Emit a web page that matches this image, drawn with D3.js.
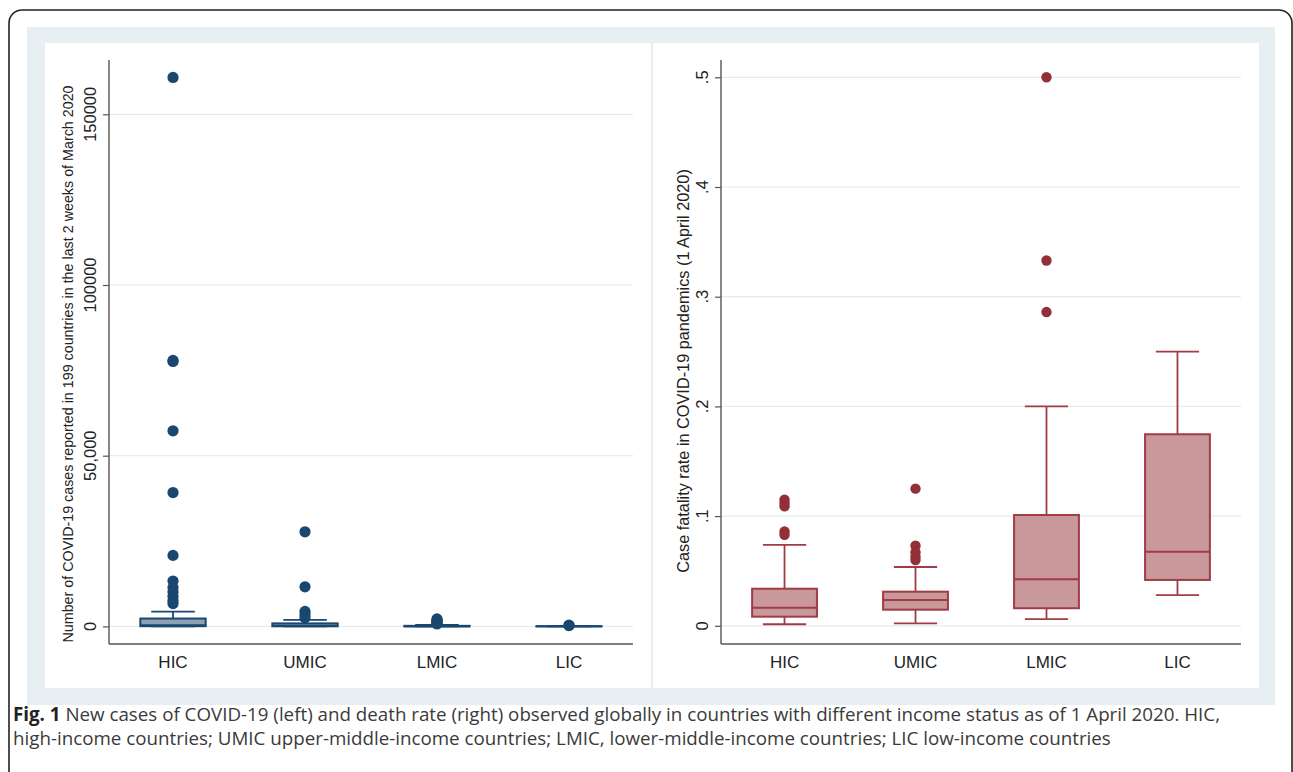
<!DOCTYPE html>
<html>
<head>
<meta charset="utf-8">
<script src="https://cdn.jsdelivr.net/npm/d3@7"></script>
<style>
  body { margin: 0; background: #fff; }
  svg { display: block; font-family: "Liberation Sans", Arial, sans-serif; }
</style>
</head>
<body>
<svg id="fig" width="1293" height="772"></svg>
<script>
const CATEGORIES = ["HIC", "UMIC", "LMIC", "LIC"];

// left panel: new cases in last 2 weeks of March 2020
const CASES_LO = [0, 0, 0, 0];
const CASES_Q1 = [60, 30, 10, 2];
const CASES_MED = [350, 160, 40, 8];
const CASES_Q3 = [2300, 880, 160, 30];
const CASES_HI = [4300, 1900, 420, 80];
const CASES_OUT = [
  [160800, 77900, 77600, 57300, 39200, 20800, 13300, 11400, 10100, 8800, 7600, 6700],
  [27700, 11600, 4400, 3400, 2500],
  [2200, 1800, 1500, 1200, 900, 700],
  [350, 250],
];
const CASES_TICKS = [0, 50000, 100000, 150000];
const CASES_TICK_LABELS = ["0", "50,000", "100000", "150000"];

// right panel: case fatality rate (1 April 2020)
const CFR_LO = [0.0014, 0.0023, 0.006, 0.028];
const CFR_Q1 = [0.0083, 0.0147, 0.016, 0.0418];
const CFR_MED = [0.0165, 0.0235, 0.0424, 0.0676];
const CFR_Q3 = [0.0338, 0.0311, 0.101, 0.1746];
const CFR_HI = [0.0737, 0.0536, 0.2, 0.25];
const CFR_OUT = [
  [0.115, 0.112, 0.109, 0.086, 0.083],
  [0.125, 0.073, 0.067, 0.063, 0.060],
  [0.5, 0.333, 0.286],
  [],
];
const CFR_TICKS = [0, 0.1, 0.2, 0.3, 0.4, 0.5];
const CFR_TICK_LABELS = ["0", ".1", ".2", ".3", ".4", ".5"];

const svg = d3.select("#fig");

// frame + graph region
svg.append("rect").attr("x", 9).attr("y", 10).attr("width", 1283).attr("height", 820)
  .attr("rx", 13).attr("fill", "#fff").attr("stroke", "#222").attr("stroke-width", 1.6);
svg.append("rect").attr("x", 27).attr("y", 27).attr("width", 1248).attr("height", 678)
  .attr("fill", "#e8eff2");
svg.append("rect").attr("x", 45).attr("y", 43).attr("width", 1214).attr("height", 645)
  .attr("fill", "#fff");
svg.append("line").attr("x1", 652).attr("x2", 652).attr("y1", 43).attr("y2", 688)
  .attr("stroke", "#dfe8ec").attr("stroke-width", 1.5);

function drawPanel(opt) {
  const g = svg.append("g");
  const x = d3.scalePoint().domain(CATEGORIES).range([opt.x0, opt.x1]).padding(0.485);
  const y = opt.y;
  const step = x.step();
  const boxW = step * 0.495;
  const capW = step * 0.33;

  // gridlines
  g.selectAll(".grid").data(opt.ticks).enter().append("line")
    .attr("x1", opt.x0).attr("x2", opt.x1)
    .attr("y1", d => y(d)).attr("y2", d => y(d))
    .attr("stroke", "#e3ecf0").attr("stroke-width", 1.2);

  // y axis ticks
  const yAxis = d3.axisLeft(y).tickValues(opt.ticks).tickSize(6).tickFormat("");
  const ya = g.append("g").attr("transform", `translate(${opt.x0},0)`).call(yAxis);
  ya.select(".domain").remove();
  ya.selectAll(".tick line").attr("stroke", "#555").attr("stroke-width", 1.2);

  g.selectAll(".ylab").data(opt.ticks).enter().append("text")
    .attr("transform", d => `translate(${opt.x0 - 13},${y(d)}) rotate(-90)`)
    .attr("text-anchor", "middle").attr("font-size", 16.5).attr("fill", "#222")
    .text((d, i) => opt.tickLabels[i]);

  // axis lines
  g.append("line").attr("x1", opt.x0).attr("x2", opt.x0).attr("y1", 60).attr("y2", 644)
    .attr("stroke", "#555").attr("stroke-width", 1.4);
  g.append("line").attr("x1", opt.x0).attr("x2", opt.x1).attr("y1", 644).attr("y2", 644)
    .attr("stroke", "#555").attr("stroke-width", 1.4);

  g.selectAll(".xlab").data(CATEGORIES).enter().append("text")
    .attr("x", d => x(d)).attr("y", 668)
    .attr("text-anchor", "middle").attr("font-size", 17).attr("fill", "#222")
    .text(d => d);

  // y title
  g.append("text")
    .attr("transform", `translate(${opt.titleX},${opt.titleY}) rotate(-90)`)
    .attr("text-anchor", "middle").attr("font-size", opt.titleSize).attr("fill", "#222")
    .text(opt.title);

  // boxes
  const boxes = g.selectAll(".box").data(CATEGORIES).enter().append("g");
  const s = opt.stats;
  boxes.append("line") // whisker
    .attr("x1", d => x(d)).attr("x2", d => x(d))
    .attr("y1", (d, i) => y(s.hi[i])).attr("y2", (d, i) => y(s.lo[i]))
    .attr("stroke", opt.stroke).attr("stroke-width", 1.8);
  ["hi", "lo"].forEach(k => {
    boxes.append("line")
      .attr("x1", d => x(d) - capW / 2).attr("x2", d => x(d) + capW / 2)
      .attr("y1", (d, i) => y(s[k][i])).attr("y2", (d, i) => y(s[k][i]))
      .attr("stroke", opt.stroke).attr("stroke-width", 1.8);
  });
  boxes.append("rect")
    .attr("x", d => x(d) - boxW / 2).attr("width", boxW)
    .attr("y", (d, i) => y(s.q3[i]))
    .attr("height", (d, i) => y(s.q1[i]) - y(s.q3[i]))
    .attr("fill", opt.fill).attr("stroke", opt.stroke).attr("stroke-width", 2);
  boxes.append("line")
    .attr("x1", d => x(d) - boxW / 2).attr("x2", d => x(d) + boxW / 2)
    .attr("y1", (d, i) => y(s.med[i])).attr("y2", (d, i) => y(s.med[i]))
    .attr("stroke", opt.stroke).attr("stroke-width", 2);

  // outliers
  boxes.each(function (d, i) {
    d3.select(this).selectAll("circle").data(s.out[i]).enter().append("circle")
      .attr("cx", x(d)).attr("cy", v => y(v)).attr("r", opt.r)
      .attr("fill", opt.dot);
  });
}

drawPanel({
  x0: 109, x1: 633,
  y: d3.scaleLinear().domain([0, 150000]).range([626.4, 114.3]),
  ticks: CASES_TICKS, tickLabels: CASES_TICK_LABELS,
  title: "Number of COVID-19 cases reported in 199 countries in the last 2 weeks of March 2020",
  titleX: 73, titleY: 364, titleSize: 14.3,
  stats: { lo: CASES_LO, q1: CASES_Q1, med: CASES_MED, q3: CASES_Q3, hi: CASES_HI, out: CASES_OUT },
  stroke: "#1a476f", fill: "#8ea2b6", dot: "#1a476f", r: 5.6,
});

drawPanel({
  x0: 721, x1: 1241,
  y: d3.scaleLinear().domain([0, 0.5]).range([625.8, 77.3]),
  ticks: CFR_TICKS, tickLabels: CFR_TICK_LABELS,
  title: "Case fatality rate in COVID-19 pandemics (1 April 2020)",
  titleX: 689, titleY: 371, titleSize: 16.3,
  stats: { lo: CFR_LO, q1: CFR_Q1, med: CFR_MED, q3: CFR_Q3, hi: CFR_HI, out: CFR_OUT },
  stroke: "#a13b45", fill: "#c8989b", dot: "#922f39", r: 5.2,
});

// caption: size the font so line 1 spans the same width as the original
const capFont = "'Open Sans', Lato, sans-serif";
const cap1 = svg.append("text").attr("x", 13).attr("y", 721)
  .attr("font-family", capFont).attr("font-size", 15).attr("fill", "#3a3a3a");
cap1.append("tspan").attr("font-weight", "bold").attr("fill", "#222").text("Fig. 1");
cap1.append("tspan").text(" New cases of COVID-19 (left) and death rate (right) observed globally in countries with different income status as of 1 April 2020. HIC,");
const cap2 = svg.append("text").attr("x", 13).attr("y", 745)
  .attr("font-family", capFont).attr("font-size", 15).attr("fill", "#3a3a3a")
  .text("high-income countries; UMIC upper-middle-income countries; LMIC, lower-middle-income countries; LIC low-income countries");
const fs = 15 * 1208 / cap1.node().getComputedTextLength();
cap1.attr("font-size", fs);
cap2.attr("font-size", fs);
</script>
</body>
</html>
